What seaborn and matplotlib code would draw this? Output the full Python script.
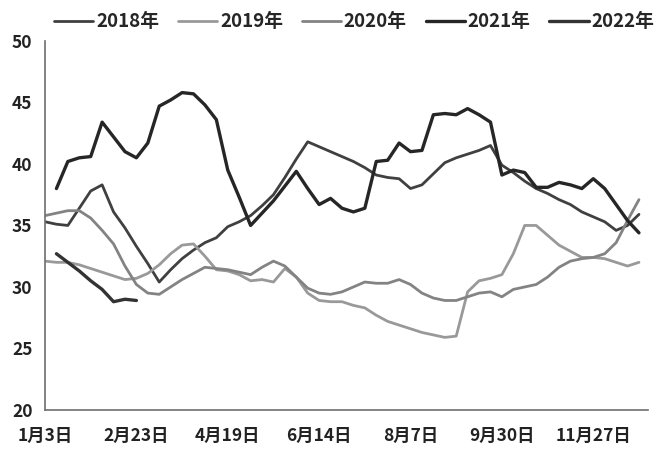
import numpy as np
import pandas as pd
import matplotlib
matplotlib.use("Agg")
import matplotlib.pyplot as plt
import seaborn as sns

nan = np.nan

# weekly index (category axis) and tick labels shown every 8 weeks
weeks = np.arange(53)
tick_pos = [0, 8, 16, 24, 32, 40, 48]
tick_labels = ["1月3日", "2月23日", "4月19日", "6月14日", "8月7日", "9月30日", "11月27日"]

y2018 = [35.3, 35.1, 35.0, 36.4, 37.8, 38.3, 36.1, 34.8, 33.3, 31.9,
         30.4, 31.4, 32.3, 33.0, 33.6, 34.0, 34.9, 35.3, 35.8, 36.6,
         37.5, 38.9, 40.4, 41.8, 41.4, 41.0, 40.6, 40.2, 39.7, 39.1,
         38.9, 38.8, 38.0, 38.3, 39.2, 40.1, 40.5, 40.8, 41.1, 41.5,
         39.9, 39.3, 38.6, 38.0, 37.6, 37.1, 36.7, 36.1, 35.7, 35.3,
         34.6, 35.0, 35.9]
y2019 = [32.1, 32.0, 32.0, 31.8, 31.5, 31.2, 30.9, 30.6, 30.7, 31.1,
         31.8, 32.7, 33.4, 33.5, 32.5, 31.4, 31.3, 31.0, 30.5, 30.6,
         30.4, 31.5, 30.8, 29.5, 28.9, 28.8, 28.8, 28.5, 28.3, 27.7,
         27.2, 26.9, 26.6, 26.3, 26.1, 25.9, 26.0, 29.6, 30.5, 30.7,
         31.0, 32.7, 35.0, 35.0, 34.2, 33.4, 32.9, 32.4, 32.4, 32.3,
         32.0, 31.7, 32.0]
y2020 = [35.8, 36.0, 36.2, 36.2, 35.6, 34.6, 33.5, 31.7, 30.2, 29.5,
         29.4, 30.0, 30.6, 31.1, 31.6, 31.5, 31.4, 31.2, 31.0, 31.6,
         32.1, 31.7, 30.8, 29.9, 29.5, 29.4, 29.6, 30.0, 30.4, 30.3,
         30.3, 30.6, 30.2, 29.5, 29.1, 28.9, 28.9, 29.2, 29.5, 29.6,
         29.2, 29.8, 30.0, 30.2, 30.8, 31.6, 32.1, 32.3, 32.4, 32.7,
         33.6, 35.4, 37.1]
y2021 = [nan, 38.0, 40.2, 40.5, 40.6, 43.4, 42.2, 41.0, 40.5, 41.7,
         44.7, 45.2, 45.8, 45.7, 44.8, 43.6, 39.5, 37.3, 35.0, 36.0,
         37.0, 38.2, 39.4, 38.0, 36.7, 37.2, 36.4, 36.1, 36.4, 40.2,
         40.3, 41.7, 41.0, 41.1, 44.0, 44.1, 44.0, 44.5, 44.0, 43.4,
         39.1, 39.5, 39.3, 38.1, 38.1, 38.5, 38.3, 38.0, 38.8, 38.0,
         36.7, 35.4, 34.4]
y2022 = [nan, 32.7, 32.0, 31.3, 30.5, 29.8, 28.8, 29.0, 28.9] + [nan] * 44

df = pd.DataFrame({"week": weeks, "2018年": y2018, "2019年": y2019,
                   "2020年": y2020, "2021年": y2021, "2022年": y2022})
df_long = df.melt(id_vars="week", var_name="year", value_name="value").dropna()

palette = {"2018年": "#404040", "2019年": "#999999", "2020年": "#838383",
           "2021年": "#262626", "2022年": "#333333"}
widths = {"2018年": 2.0, "2019年": 2.0, "2020年": 2.0, "2021年": 2.4, "2022年": 2.4}

sns.set_theme(style="white")
plt.rcParams["font.family"] = ["Noto Sans CJK SC", "DejaVu Sans"]

fig = plt.figure(figsize=(6.62, 4.5), dpi=100)
ax = fig.add_axes([0.068, 0.089, 0.911, 0.82])

sns.lineplot(data=df_long, x="week", y="value", hue="year", size="year",
             palette=palette, sizes=widths, ax=ax, legend="brief")

ax.set_xlim(0, 52.8)
ax.set_ylim(20, 50)
ax.set_yticks(range(20, 51, 5))
ax.set_xticks(tick_pos)
ax.set_xticklabels(tick_labels)
ax.set_xlabel("")
ax.set_ylabel("")

for side in ["top", "right"]:
    ax.spines[side].set_visible(False)
for side in ["left", "bottom"]:
    ax.spines[side].set_color("#6e6e6e")
    ax.spines[side].set_linewidth(1.2)

ax.tick_params(axis="both", direction="in", length=5, width=1, color="#6e6e6e",
               labelsize=12.5, labelcolor="#222222")
ax.tick_params(axis="x", pad=12)
ax.tick_params(axis="y", pad=9)
for lab in ax.get_xticklabels() + ax.get_yticklabels():
    lab.set_fontweight("bold")

handles, labels = ax.get_legend_handles_labels()
ax.legend(handles, labels, loc="center", bbox_to_anchor=(0.535, 0.952),
          bbox_transform=fig.transFigure, ncol=5, frameon=False,
          handlelength=2.1, handletextpad=0.15, columnspacing=1.0,
          prop={"size": 13.5, "weight": "bold"})

plt.savefig("out.png", dpi=100)
